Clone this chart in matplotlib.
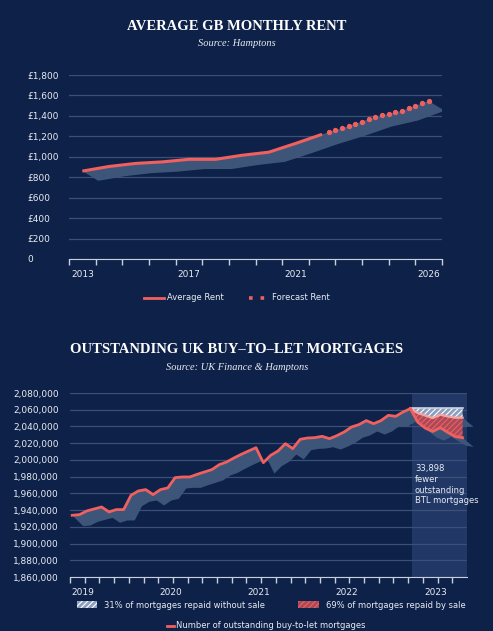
import matplotlib
matplotlib.use("Agg")
import matplotlib.pyplot as plt
import numpy as np
from matplotlib.patches import Polygon, Rectangle, Patch
from matplotlib.lines import Line2D

BG = "#0e2148"
RED = "#f0605e"
SHADOW = "#3e557a"
GRID = "#3b5079"
TXT = "#e8ecf3"
plt.rcParams['hatch.linewidth'] = 0.8

# ---- data: rent ----
years = [2013, 2014, 2015, 2016, 2017, 2018, 2019, 2020, 2021, 2022, 2023, 2024, 2025, 2026]
rent_actual = [860, 905, 935, 950, 975, 975, 1015, 1045, 1130, 1220]
rent_forecast = [1220, 1300, 1390, 1450, 1545]
rent_ticks = [0, 200, 400, 600, 800, 1000, 1200, 1400, 1600, 1800]
rent_labels = ["0", "£200", "£400", "£600", "£800", "£1,000", "£1,200", "£1,400", "£1,600", "£1,800"]
rent_xlabels = {2013: "2013", 2017: "2017", 2021: "2021", 2026: "2026"}

# ---- data: BTL mortgages (thousands, monthly from Jan 2019) ----
btl = [1933.8, 1934.6, 1939.0, 1941.4, 1943.7, 1937.8, 1940.6, 1940.6, 1957.7, 1962.9,
       1964.5, 1958.5, 1964.5, 1966.5, 1978.8, 1979.6, 1979.6, 1982.8, 1985.6, 1988.4,
       1994.3, 1997.5, 2002.3, 2006.7, 2010.7, 2014.6, 1996.7, 2005.5, 2010.7, 2019.4,
       2013.5, 2024.6, 2026.2, 2026.6, 2028.2, 2025.4, 2029.0, 2033.4, 2039.4, 2042.2,
       2047.0, 2043.3, 2047.0, 2053.3, 2052.1, 2057.3, 2061.3]
fc_without_sale = [2061.3, 2056, 2053, 2050, 2054, 2052, 2050.5, 2050.5]
fc_by_sale = [2061.3, 2045, 2038, 2034, 2038.5, 2033, 2028, 2026.5]
fc_top = 2062
btl_ticks = list(range(1860, 2081, 20))
btl_years = ["2019", "2020", "2021", "2022", "2023"]
annotation = "33,898\nfewer\noutstanding\nBTL mortgages"

fig = plt.figure(figsize=(4.93, 6.31), dpi=100)
fig.patch.set_facecolor(BG)

def style(ax):
    ax.set_facecolor(BG)
    for s in ["top", "right", "left"]:
        ax.spines[s].set_visible(False)
    ax.spines["bottom"].set_color("#c8d0de")
    ax.tick_params(axis="x", which="both", colors="#c8d0de", labelcolor=TXT, labelsize=6.5, length=4, width=1)
    ax.tick_params(axis="y", length=0, labelcolor=TXT, labelsize=6.5)

# ---- top chart ----
ax1 = fig.add_axes([69/493, 1-259/631, (442-69)/493, 184/631])
style(ax1)
xa = np.arange(len(rent_actual))
xf = np.arange(len(rent_actual)-1, len(rent_actual)-1+len(rent_forecast))
allx = np.concatenate([xa, xf[1:]])
ally = np.array(rent_actual + rent_forecast[1:], dtype=float)
top = np.column_stack([allx, ally])
bot = np.column_stack([allx + 0.6, ally - 95])[::-1]
ax1.add_patch(Polygon(np.vstack([top, bot]), closed=True, fc=SHADOW, ec="none", zorder=1))
ax1.plot(xa, rent_actual, color=RED, lw=2.2, zorder=3, solid_capstyle="butt")
fx = np.linspace(xf[0], xf[-1], 17)
fy = np.interp(fx, xf, rent_forecast)
ax1.plot(fx[1:], fy[1:], ls="none", marker="o", ms=2.8, color=RED, zorder=3)
ax1.set_xlim(-0.5, len(years)-0.5)
ax1.set_ylim(0, 1800)
ax1.set_yticks(rent_ticks)
ax1.set_yticklabels(rent_labels)
for t in ax1.get_yticklabels():
    t.set_horizontalalignment("left")
ax1.tick_params(axis="y", pad=30)
ax1.grid(axis="y", color=GRID, lw=0.9)
ax1.set_axisbelow(True)
ax1.set_xticks(np.arange(len(years)+1)-0.5)
ax1.set_xticklabels([])
ax1.set_xticks([years.index(y) for y in rent_xlabels], minor=True)
ax1.set_xticklabels(list(rent_xlabels.values()), minor=True)
ax1.tick_params(axis="x", which="minor", length=0, pad=8)
h1 = [Line2D([], [], color=RED, lw=2), Line2D([], [], color=RED, ls=(0, (1, 2.2)), lw=2.6)]
fig.legend(h1, ["Average Rent", "Forecast Rent"], loc="center", bbox_to_anchor=(0.48, 1-298/631),
           ncol=2, frameon=False, fontsize=6, labelcolor=TXT, handlelength=2.5, columnspacing=3, handletextpad=0.3)
fig.text(0.48, 1-26/631, "AVERAGE GB MONTHLY RENT", color="white", fontsize=10.5, ha="center", va="center",
         family="Liberation Serif", weight="bold")
fig.text(0.48, 1-44/631, "Source: Hamptons", color=TXT, fontsize=7.5, ha="center", va="center",
         family="Liberation Serif", style="italic")

# ---- bottom chart ----
ax2 = fig.add_axes([70/493, 1-577/631, (467-70)/493, 184/631])
style(ax2)
n = len(btl)
mx = np.arange(n)
x0 = n - 1
fxm = x0 + (np.arange(len(fc_by_sale)) * 7.1 / (len(fc_by_sale)-1))
xmax = fxm[-1] + 0.6
ax2.add_patch(Rectangle((x0 + 0.2, 1860), xmax - x0 - 0.2, 220, fc="#213866", ec="none", zorder=0))
top = np.column_stack([mx, btl])
bot = np.column_stack([mx + 1.5, np.array(btl) - 13])[::-1]
ax2.add_patch(Polygon(np.vstack([top, bot]), closed=True, fc=SHADOW, ec="none", zorder=1))
for series in (fc_without_sale, fc_by_sale):
    s = np.array(series)
    poly = np.vstack([np.column_stack([fxm, s]),
                      np.column_stack([fxm + 1.5, s - 11])[::-1]])
    ax2.add_patch(Polygon(poly, closed=True, fc=SHADOW, ec="none", zorder=1, clip_on=False))
ax2.fill_between(fxm, fc_without_sale, fc_top, fc="#8ea0c0", ec="white", hatch="//////", lw=0, zorder=2)
ax2.fill_between(fxm, fc_by_sale, fc_without_sale, fc="#a84a5a", ec=RED, hatch="//////", lw=0, zorder=2)
ax2.plot(fxm, [fc_top]*len(fxm), color="#c9d3e6", lw=1.2, zorder=3)
ax2.plot(fxm, fc_without_sale, color="#f4a6a2", lw=1.6, zorder=3)
ax2.plot(fxm, fc_by_sale, color=RED, lw=2, zorder=3)
ax2.plot(mx, btl, color=RED, lw=2, zorder=4)
ax2.set_xlim(-0.3, xmax)
ax2.set_ylim(1860, 2080)
ax2.set_yticks(btl_ticks)
ax2.set_yticklabels([f"{v*1000:,}" for v in btl_ticks])
ax2.tick_params(axis="y", pad=8)
ax2.grid(axis="y", color=GRID, lw=0.9)
ax2.set_axisbelow(True)
ax2.set_xticks(np.arange(-0.3, xmax, 2))
ax2.set_xticklabels([])
ax2.set_xticks([1.4 + 12*i for i in range(len(btl_years))], minor=True)
ax2.set_xticklabels(btl_years, minor=True)
ax2.tick_params(axis="x", which="minor", length=0, pad=8)
ax2.text(x0 + 0.6, 1995, annotation, color=TXT, fontsize=6, va="top", ha="left", linespacing=1.25, zorder=5)

h2 = [Patch(fc="#8ea0c0", ec="white", hatch="//////", lw=0), Patch(fc="#a84a5a", ec=RED, hatch="//////", lw=0)]
fig.legend(h2, ["31% of mortgages repaid without sale", "69% of mortgages repaid by sale"], loc="center",
           bbox_to_anchor=(0.55, 1-605/631), ncol=2, frameon=False, fontsize=6, labelcolor=TXT,
           handlelength=2.5, handleheight=0.9, columnspacing=4, handletextpad=0.8)
fig.legend([Line2D([], [], color=RED, lw=2)], ["Number of outstanding buy-to-let mortgages"], loc="center",
           bbox_to_anchor=(0.54, 1-626/631), frameon=False, fontsize=6, labelcolor=TXT,
           handlelength=0.8, handletextpad=0.3)
fig.text(0.48, 1-349/631, "OUTSTANDING UK BUY–TO–LET MORTGAGES", color="white", fontsize=10.5, ha="center",
         va="center", family="Liberation Serif", weight="bold")
fig.text(0.48, 1-367/631, "Source: UK Finance & Hamptons", color=TXT, fontsize=7.5, ha="center", va="center",
         family="Liberation Serif", style="italic")

fig.savefig("out.png", dpi=100, facecolor=BG)
